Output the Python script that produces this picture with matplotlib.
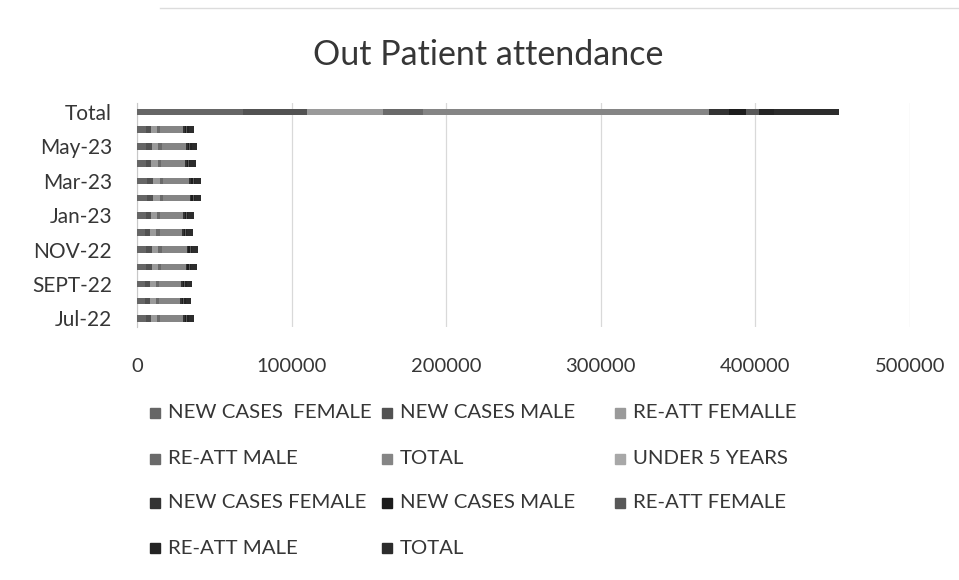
import numpy as np
import matplotlib.pyplot as plt
from matplotlib.patches import Rectangle
from matplotlib.lines import Line2D

plt.rcParams['font.family'] = ['Lato', 'DejaVu Sans']

# Months (bottom to top) plus the grand total row
meses = ["Jul-22", "Aug-22", "SEPT-22", "OCT-22", "NOV-22", "DEC-22",
         "Jan-23", "Feb-23", "Mar-23", "Apr-23", "May-23", "Jun-23", "Total"]

# Adults
nuevos_fem = [5540, 5195, 5310, 5830, 5945, 5405, 5500, 6290, 6270, 5750, 5885, 5540, 68460]
nuevos_masc = [3370, 3160, 3230, 3545, 3615, 3290, 3345, 3825, 3815, 3495, 3575, 3370, 41635]
reatt_fem = [3970, 3720, 3800, 4170, 4260, 3870, 3940, 4505, 4490, 4120, 4215, 3965, 49025]
reatt_masc = [2090, 1965, 2010, 2205, 2250, 2045, 2085, 2380, 2375, 2175, 2225, 2095, 25900]
total_adultos = [14970, 14040, 14350, 15750, 16070, 14610, 14870, 17000, 16950, 15540, 15900, 14970, 185020]
# Header column, no values
menores_5 = [0] * 13
# Under 5 years
u5_nuevos_fem = [1020, 990, 1005, 1080, 1095, 1015, 1050, 1110, 1125, 1045, 1035, 1025, 12595]
u5_nuevos_masc = [920, 890, 905, 970, 985, 925, 945, 1000, 1010, 950, 930, 915, 11345]
u5_reatt_fem = [680, 660, 670, 720, 730, 685, 700, 740, 750, 705, 690, 675, 8405]
u5_reatt_masc = [780, 760, 770, 830, 840, 775, 805, 850, 865, 800, 795, 785, 9655]
u5_total = [3400, 3300, 3350, 3600, 3650, 3400, 3500, 3700, 3750, 3500, 3450, 3400, 42000]

series = [nuevos_fem, nuevos_masc, reatt_fem, reatt_masc, total_adultos, menores_5,
          u5_nuevos_fem, u5_nuevos_masc, u5_reatt_fem, u5_reatt_masc, u5_total]
nombres = ["NEW CASES  FEMALE", "NEW CASES MALE", "RE-ATT FEMALLE",
           "RE-ATT MALE", "TOTAL", "UNDER 5 YEARS",
           "NEW CASES FEMALE", "NEW CASES MALE", "RE-ATT FEMALE",
           "RE-ATT MALE", "TOTAL"]
colores = ["#666666", "#525252", "#9a9a9a", "#6a6a6a", "#858585", "#a8a8a8",
           "#333333", "#1c1c1c", "#585858", "#242424", "#2c2c2c"]

texto = "#363636"

fig = plt.figure(figsize=(9.59, 5.8), dpi=100)
ax = fig.add_axes([0.1429, 0.4362, 0.806, 0.3854])

# Stacked horizontal bars
y = np.arange(len(meses))
izquierda = np.zeros(len(meses))
for vals, col in zip(series, colores):
    ax.barh(y, vals, left=izquierda, height=0.38, color=col, zorder=3)
    izquierda += np.array(vals)

ax.set_xlim(0, 500000)
ax.set_ylim(-0.5, len(meses) - 0.5)
ax.set_xticks(np.arange(0, 500001, 100000))
ax.set_xticklabels([str(v) for v in range(0, 500001, 100000)])
ax.set_yticks(y[::2])
ax.set_yticklabels(meses[::2])
ax.tick_params(axis="x", length=0, pad=22, labelsize=14.5, colors=texto)
ax.tick_params(axis="y", length=0, pad=18, labelsize=15, colors=texto)
ax.grid(axis="x", color="#d9d9d9", linewidth=0.9, zorder=0)
for lado in ["top", "right", "bottom"]:
    ax.spines[lado].set_visible(False)
ax.spines["left"].set_color("#c8c8c8")

fig.text(0.509, 0.905, "Out Patient attendance", ha="center", va="center",
         fontsize=24.5, color=texto)

# Legend laid out row by row, three per row
col_x = [150, 382, 615]
fila_y = [413, 459, 503, 548]
W, H = 959, 580
for i, (nom, col) in enumerate(zip(nombres, colores)):
    fx = col_x[i % 3]
    fy = fila_y[i // 3]
    fig.patches.append(Rectangle((fx / W, (H - fy - 5) / H), 10 / W, 10 / H,
                                 transform=fig.transFigure, color=col))
    fig.text((fx + 18) / W, (H - fy) / H, nom, ha="left", va="center",
             fontsize=14.7, color=texto)

# Top edge of the chart frame
fig.add_artist(Line2D([160 / W, 1], [1 - 8 / H, 1 - 8 / H], color="#dcdcdc",
                      linewidth=1, transform=fig.transFigure))

plt.savefig("out.png", dpi=100)
